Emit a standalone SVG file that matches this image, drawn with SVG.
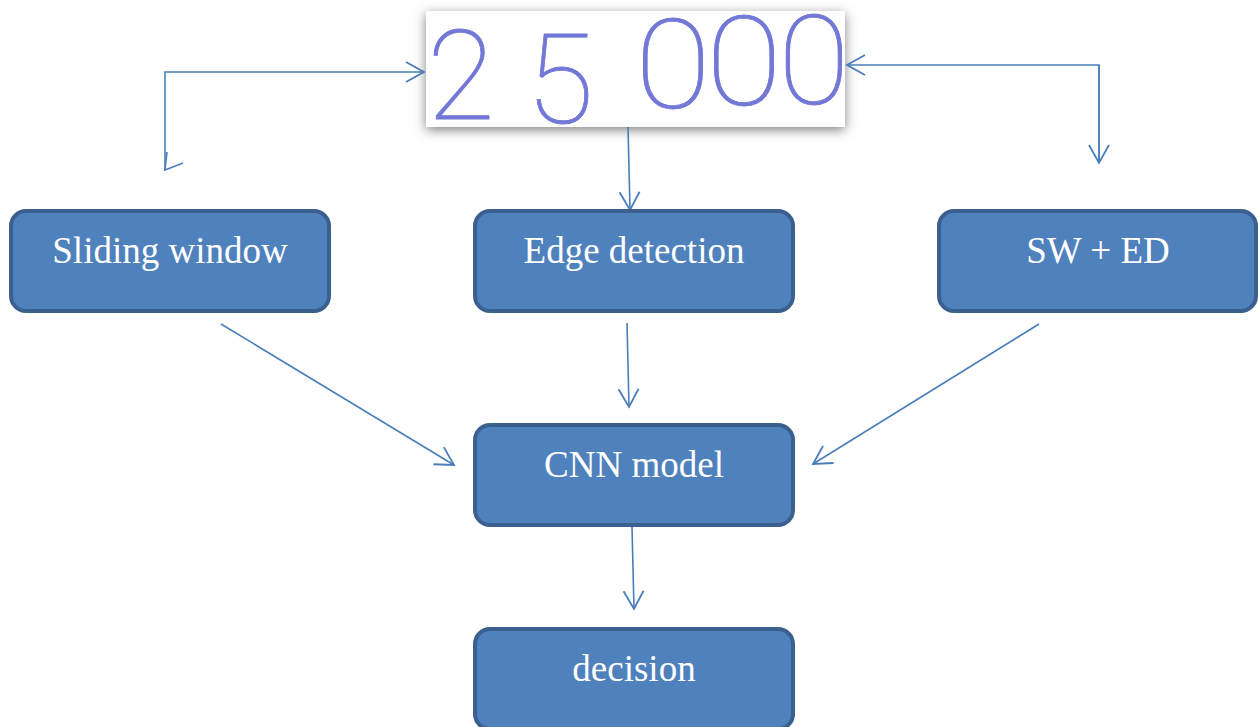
<svg xmlns="http://www.w3.org/2000/svg" width="1258" height="727" viewBox="0 0 1258 727">
  <style>
    .box { fill: #4f81bd; stroke: #3b6090; stroke-width: 4; }
    .lbl { font-family: "Liberation Serif", "Times New Roman", serif; font-size: 37px; fill: #ffffff; text-anchor: middle; }
    .conn { fill: none; stroke: #4a7ebb; stroke-width: 1.6; }
    .digit { font-family: Roboto, Inter, Lato, sans-serif; font-weight: 100; font-size: 124px; fill: #7377d6; stroke: #7377d6; stroke-width: 0.8; text-anchor: middle; }
  </style>
  <defs>
    <filter id="shadow" x="-10%" y="-30%" width="120%" height="160%">
      <feDropShadow dx="0" dy="3" stdDeviation="6" flood-color="#555555" flood-opacity="0.75"/>
    </filter>
    <marker id="arrow" markerUnits="userSpaceOnUse" markerWidth="24" markerHeight="24" viewBox="-20 -12 24 24" refX="0" refY="0" orient="auto">
      <path d="M -18 -10 L 0 0 L -18 10" fill="none" stroke="#4a7ebb" stroke-width="1.8"/>
    </marker>
  </defs>

  <rect width="1258" height="727" fill="#ffffff"/>

  <!-- handwritten number card -->
  <g id="input-image">
    <rect x="426" y="11" width="419" height="116" fill="#ffffff" filter="url(#shadow)"/>
    <text class="digit" x="461" y="119">2</text>
    <text class="digit" x="560" y="123">5</text>
    <text class="digit" transform="translate(673 108) scale(1.12 1)" x="0" y="0">0</text>
    <text class="digit" transform="translate(744 105) scale(1.12 1)" x="0" y="0">0</text>
    <text class="digit" transform="translate(814 104) scale(1.05 1)" x="0" y="0">0</text>
  </g>

  <g id="connectors">
    <!-- left branch: card to sliding window -->
    <polyline class="conn" points="165,170 165,72 424,72" marker-end="url(#arrow)"/>
    <polyline class="conn" points="167,152 165,170 183,163"/>
    <!-- right branch: card to SW + ED -->
    <polyline class="conn" points="1099,163 1099,65 847,65" marker-end="url(#arrow)"/>
    <polyline class="conn" points="1099,65 1099,163" marker-end="url(#arrow)"/>
    <!-- center: card to edge detection -->
    <line class="conn" x1="628" y1="127" x2="630" y2="210" marker-end="url(#arrow)"/>
    <!-- into CNN model -->
    <line class="conn" x1="627" y1="323" x2="629" y2="407" marker-end="url(#arrow)"/>
    <line class="conn" x1="221" y1="324" x2="454" y2="465" marker-end="url(#arrow)"/>
    <line class="conn" x1="1039" y1="324" x2="813" y2="464" marker-end="url(#arrow)"/>
    <!-- CNN model to decision -->
    <line class="conn" x1="632" y1="527" x2="634" y2="609" marker-end="url(#arrow)"/>
  </g>

  <g id="sliding-window">
    <rect class="box" x="11" y="211" width="318" height="100" rx="15"/>
    <text class="lbl" x="170" y="263">Sliding window</text>
  </g>
  <g id="edge-detection">
    <rect class="box" x="475" y="211" width="318" height="100" rx="15"/>
    <text class="lbl" x="634" y="263">Edge detection</text>
  </g>
  <g id="sw-ed">
    <rect class="box" x="939" y="211" width="317" height="100" rx="15"/>
    <text class="lbl" x="1098" y="263">SW + ED</text>
  </g>
  <g id="cnn-model">
    <rect class="box" x="475" y="425" width="318" height="100" rx="15"/>
    <text class="lbl" x="634" y="477">CNN model</text>
  </g>
  <g id="decision">
    <rect class="box" x="475" y="629" width="318" height="100" rx="15"/>
    <text class="lbl" x="634" y="681">decision</text>
  </g>
</svg>
